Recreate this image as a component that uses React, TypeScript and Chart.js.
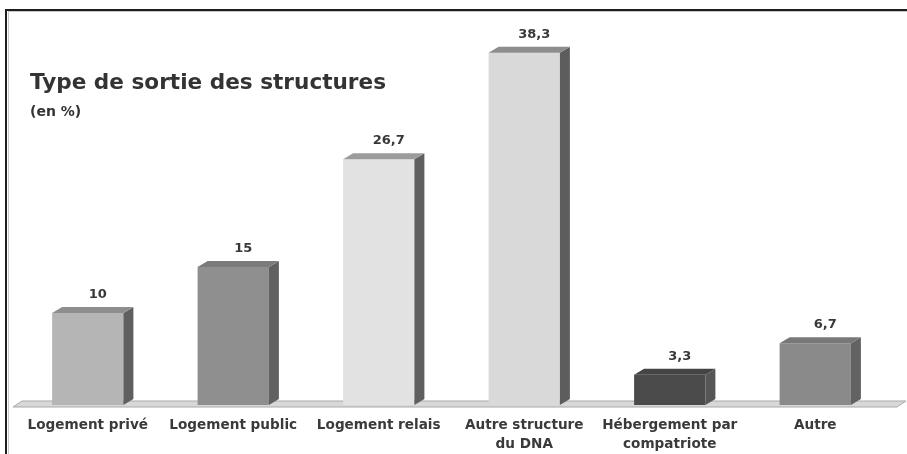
import React, { useEffect, useRef } from "react";
import { Chart, registerables } from "chart.js";

Chart.register(...registerables);

const categories: (string | string[])[] = [
  "Logement privé",
  "Logement public",
  "Logement relais",
  ["Autre structure", "du DNA"],
  ["Hébergement par", "compatriote"],
  "Autre",
];
const values: number[] = [10, 15, 26.7, 38.3, 3.3, 6.7];
const valueLabels: string[] = ["10", "15", "26,7", "38,3", "3,3", "6,7"];
const frontColors: string[] = ["#b5b5b5", "#8f8f8f", "#e2e2e2", "#d9d9d9", "#4b4b4b", "#8a8a8a"];
const topColors: string[] = ["#8e8e8e", "#7b7b7b", "#9c9c9c", "#8d8d8d", "#444444", "#787878"];
const sideColors: string[] = ["#5f5f5f", "#616161", "#5f5f5f", "#5d5d5d", "#565656", "#626262"];
const titleText = "Type de sortie des structures";
const subtitleText = "(en %)";

const DX = 10;
const DY = 6;
const FONT = "'DejaVu Sans', sans-serif";

const decorPlugin = {
  id: "decor",
  beforeDraw(chart: any) {
    const ctx = chart.ctx;
    ctx.save();
    // frame
    ctx.fillStyle = "#c8c8c8";
    ctx.fillRect(8, 11, chart.width - 8, 1);
    ctx.fillRect(8, 11, 1, chart.height - 11);
    ctx.fillStyle = "#1e1e1e";
    ctx.fillRect(5, 9, chart.width - 5, 2);
    ctx.fillRect(5, 9, 2, chart.height - 9);
    // title
    ctx.fillStyle = "#333333";
    ctx.textBaseline = "alphabetic";
    ctx.textAlign = "left";
    ctx.font = `bold 21.6px ${FONT}`;
    ctx.fillText(titleText, 30, 89);
    ctx.font = `bold 14px ${FONT}`;
    ctx.fillText(subtitleText, 30, 116);
    ctx.restore();
  },
  beforeDatasetsDraw(chart: any) {
    const ctx = chart.ctx;
    const area = chart.chartArea;
    const y0 = chart.scales.y.getPixelForValue(0);
    ctx.save();
    ctx.beginPath();
    ctx.moveTo(area.left - 2, y0 + 2);
    ctx.lineTo(area.left + 7, y0 - 4);
    ctx.lineTo(area.right + 18, y0 - 4);
    ctx.lineTo(area.right + 9, y0 + 2);
    ctx.closePath();
    ctx.fillStyle = "#d8d8d8";
    ctx.fill();
    ctx.strokeStyle = "#a8a8a8";
    ctx.lineWidth = 1;
    ctx.stroke();
    ctx.restore();
  },
  afterDatasetsDraw(chart: any) {
    const ctx = chart.ctx;
    const meta = chart.getDatasetMeta(0);
    const y0 = chart.scales.y.getPixelForValue(0);
    ctx.save();
    meta.data.forEach((bar: any, i: number) => {
      const p = bar.getProps(["x", "y", "width", "base"], true);
      const x1 = p.x - p.width / 2;
      const x2 = p.x + p.width / 2;
      const yt = p.y;
      // side face
      ctx.beginPath();
      ctx.moveTo(x2, yt);
      ctx.lineTo(x2 + DX, yt - DY);
      ctx.lineTo(x2 + DX, y0 - DY);
      ctx.lineTo(x2, y0);
      ctx.closePath();
      ctx.fillStyle = sideColors[i];
      ctx.fill();
      // top face
      ctx.beginPath();
      ctx.moveTo(x1, yt);
      ctx.lineTo(x1 + DX, yt - DY);
      ctx.lineTo(x2 + DX, yt - DY);
      ctx.lineTo(x2, yt);
      ctx.closePath();
      ctx.fillStyle = topColors[i];
      ctx.fill();
      // value label
      ctx.fillStyle = "#383838";
      ctx.font = `bold 13px ${FONT}`;
      ctx.textAlign = "center";
      ctx.textBaseline = "alphabetic";
      ctx.fillText(valueLabels[i], p.x + 10, yt - 15);
    });
    ctx.restore();
  },
};

export default function App() {
  const ref = useRef<HTMLCanvasElement | null>(null);
  useEffect(() => {
    if (!ref.current) return;
    const chart = new Chart(ref.current, {
      type: "bar",
      data: {
        labels: categories,
        datasets: [
          {
            data: values,
            backgroundColor: frontColors,
            borderWidth: 0,
            barPercentage: 0.49,
            categoryPercentage: 1,
          },
        ],
      },
      options: {
        responsive: false,
        animation: false,
        layout: { padding: { left: 15, right: 19, top: 37, bottom: 0 } },
        plugins: { legend: { display: false }, tooltip: { enabled: false } },
        scales: {
          x: {
            grid: { display: false, drawTicks: false },
            border: { display: false },
            afterFit: (scale: any) => {
              scale.height = 49;
            },
            ticks: {
              padding: 11,
              color: "#3a3a3a",
              font: { family: FONT, size: 13.6, weight: "bold", lineHeight: 1.38 },
              maxRotation: 0,
              autoSkip: false,
            },
          },
          y: {
            display: false,
            min: 0,
            max: 40,
          },
        },
      },
      plugins: [decorPlugin],
    });
    return () => chart.destroy();
  }, []);
  return (
    <div style={{ position: "absolute", left: 0, top: 0, width: 907, height: 454, background: "#ffffff" }}>
      <canvas ref={ref} width={907} height={454} style={{ display: "block" }} />
    </div>
  );
}
